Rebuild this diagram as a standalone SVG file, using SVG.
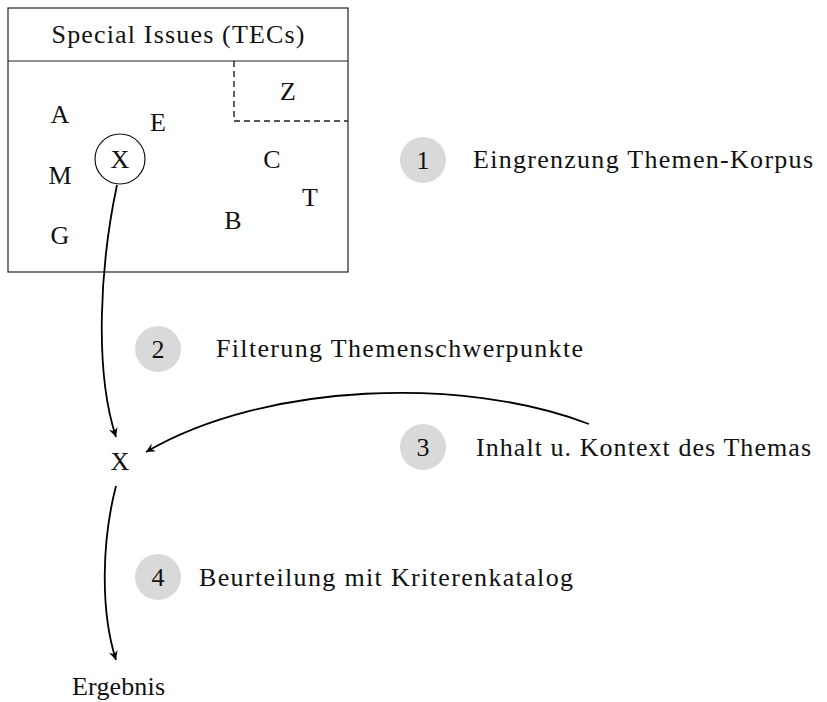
<svg xmlns="http://www.w3.org/2000/svg" width="827" height="702" viewBox="0 0 827 702">
  <style>
    .mid { text-anchor: middle; }
    .frame { fill: none; stroke: #222; stroke-width: 1.2; }
    .dash { fill: none; stroke: #222; stroke-width: 1.4; stroke-dasharray: 6 4; }
    .badge { fill: #d9d9d9; stroke: none; }
    .edge { fill: none; stroke: #000; stroke-width: 1.8; marker-end: url(#tip); }
  </style>
  <defs>
    <marker id="tip" viewBox="-10 -6 12 12" refX="0" refY="0" markerWidth="12" markerHeight="12" markerUnits="userSpaceOnUse" orient="auto">
      <path d="M0,0 L-9,-4.5 L-6,0 L-9,4.5 Z" fill="#000"/>
    </marker>
  </defs>
  <rect width="827" height="702" fill="#fff"/>

  <g font-family="Liberation Serif" font-size="26" fill="#111">
    <!-- corpus box with topic letters -->
    <g id="corpus">
      <rect class="frame" x="8" y="8" width="340" height="264"/>
      <line class="frame" x1="8" y1="61" x2="348" y2="61"/>
      <text class="mid" x="178" y="43" textLength="253" lengthAdjust="spacing">Special Issues (TECs)</text>
      <path class="dash" d="M234,61 V121 H348"/>
      <text class="mid" x="288" y="100">Z</text>
      <text class="mid" x="60" y="123">A</text>
      <text class="mid" x="158" y="131">E</text>
      <text class="mid" x="60" y="184">M</text>
      <text class="mid" x="60" y="244">G</text>
      <text class="mid" x="272" y="168">C</text>
      <text class="mid" x="310" y="206">T</text>
      <text class="mid" x="233" y="229">B</text>
    </g>
    <g id="x-selected">
      <circle cx="120" cy="159" r="25" fill="none" stroke="#111" stroke-width="1.2"/>
      <text class="mid" x="120" y="168">X</text>
    </g>

    <g id="x-topic">
      <text class="mid" x="120" y="470">X</text>
    </g>
    <g id="result">
      <text x="72" y="695" textLength="93" lengthAdjust="spacing">Ergebnis</text>
    </g>

    <!-- numbered steps -->
    <g id="step1">
      <circle class="badge" cx="423" cy="160" r="23"/>
      <text class="mid" x="423" y="169">1</text>
      <text x="473" y="168" textLength="340" lengthAdjust="spacing">Eingrenzung Themen-Korpus</text>
    </g>
    <g id="step2">
      <circle class="badge" cx="158" cy="349" r="23"/>
      <text class="mid" x="158" y="358">2</text>
      <text x="216" y="357" textLength="367" lengthAdjust="spacing">Filterung Themenschwerpunkte</text>
    </g>
    <g id="step3">
      <circle class="badge" cx="423" cy="447" r="23"/>
      <text class="mid" x="423" y="456">3</text>
      <text x="476" y="456" textLength="335" lengthAdjust="spacing">Inhalt u. Kontext des Themas</text>
    </g>
    <g id="step4">
      <circle class="badge" cx="158" cy="577" r="23"/>
      <text class="mid" x="158" y="586">4</text>
      <text x="199" y="586" textLength="374" lengthAdjust="spacing">Beurteilung mit Kriterenkatalog</text>
    </g>
  </g>

  <!-- connectors -->
  <g id="connectors">
    <path class="edge" d="M117,185 C100,265 94,370 116,437"/>
    <path class="edge" d="M589,424 C465,376 265,382 146,452"/>
    <path class="edge" d="M116,486 C102,540 100,610 116,660"/>
  </g>
</svg>
